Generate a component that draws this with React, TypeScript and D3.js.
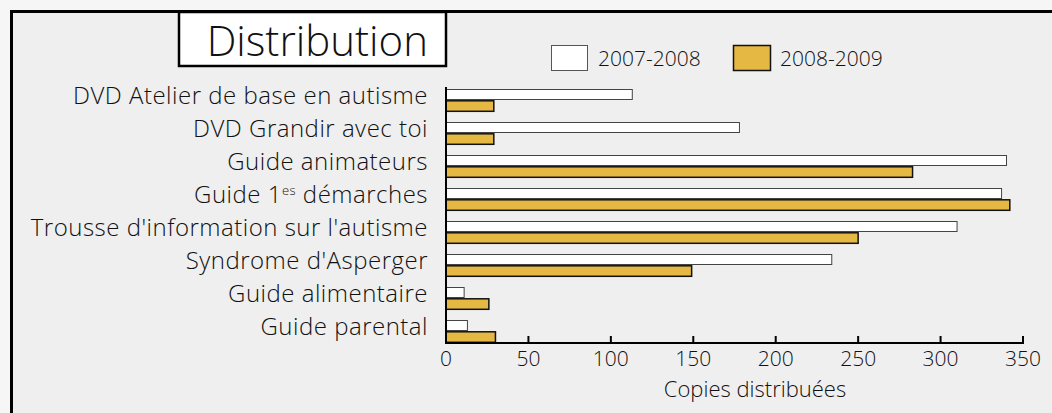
import React from "react";
import * as d3 from "d3";

const categories = [
  "DVD Atelier de base en autisme",
  "DVD Grandir avec toi",
  "Guide animateurs",
  "Guide 1es démarches",
  "Trousse d'information sur l'autisme",
  "Syndrome d'Asperger",
  "Guide alimentaire",
  "Guide parental",
];
const series2007 = [113, 178, 340, 337, 310, 234, 11, 13];
const series2008 = [29, 29, 283, 342, 250, 149, 26, 30];
const xTicks = [0, 50, 100, 150, 200, 250, 300, 350];
const seriesNames = ["2007-2008", "2008-2009"];

const W = 1052;
const H = 413;
const FONT = "'Open Sans', Lato, sans-serif";
const GOLD = "#e5b843";

export default function App() {
  const x = d3.scaleLinear().domain([0, 350]).range([446, 1023]);
  const y = d3.scaleBand<string>().domain(categories).range([79, 343]).paddingInner(0).paddingOuter(0);
  const step = y.step();
  const barH = 10.5;
  const axisY = 343;

  return (
    <svg width={W} height={H} style={{ position: "absolute", left: 0, top: 0, background: "#f6f6f6" }} fontFamily={FONT}>
      <rect x={11.5} y={11.5} width={W + 50} height={H + 50} fill="#efefef" stroke="#000" strokeWidth={3} />
      {/* title */}
      <rect x={179} y={12} width={267} height={54} fill="#fff" stroke="#000" strokeWidth={2.5} />
      <text x={428} y={56} textAnchor="end" fontSize={42} fontWeight={300} fill="#111">Distribution</text>
      {/* legend */}
      <rect x={551.5} y={45.5} width={36} height={25} fill="#fff" stroke="#555" strokeWidth={1} />
      <text x={598} y={66} fontSize={21} fontWeight={300} fill="#111">{seriesNames[0]}</text>
      <rect x={733.5} y={45.5} width={37} height={25} fill={GOLD} stroke="#111" strokeWidth={1.5} />
      <text x={780} y={66} fontSize={21} fontWeight={300} fill="#111">{seriesNames[1]}</text>

      {/* bars */}
      {categories.map((c, i) => {
        const y0 = (y(c) as number) + step - 2 * barH - 1.5;
        return (
          <g key={c}>
            <rect x={x(0)} y={y0} width={x(series2007[i]) - x(0)} height={barH - 0.5} fill="#fff" stroke="#444" strokeWidth={1} />
            <rect x={x(0)} y={y0 + barH + 0.8} width={x(series2008[i]) - x(0)} height={barH} fill={GOLD} stroke="#111" strokeWidth={1.5} />
          </g>
        );
      })}

      {/* category labels */}
      {categories.map((c) => {
        const cy = (y(c) as number) + step - barH - 1;
        const label = c === "Guide 1es démarches" ? (
          <>
            Guide 1<tspan dy={-8} fontSize={13}>es</tspan>
            <tspan dy={8}> démarches</tspan>
          </>
        ) : c;
        return (
          <text key={c} x={428} y={cy + 3} textAnchor="end" fontSize={24} fontWeight={300} letterSpacing={0.5} fill="#111">
            {label}
          </text>
        );
      })}

      {/* axes */}
      <line x1={x(0)} x2={x(0)} y1={87} y2={axisY + 1} stroke="#000" strokeWidth={2} />
      <line x1={x(0) - 1} x2={x(350) + 1} y1={axisY} y2={axisY} stroke="#000" strokeWidth={2} />
      {xTicks.map((t) => (
        <g key={t}>
          {t > 0 && <line x1={x(t)} x2={x(t)} y1={axisY} y2={axisY - 7} stroke="#000" strokeWidth={2} />}
          <text x={x(t)} y={366} textAnchor="middle" fontSize={21} fontWeight={300} fill="#111">{t}</text>
        </g>
      ))}
      <text x={755} y={397} textAnchor="middle" fontSize={22} fontWeight={300} fill="#111">Copies distribuées</text>
    </svg>
  );
}
